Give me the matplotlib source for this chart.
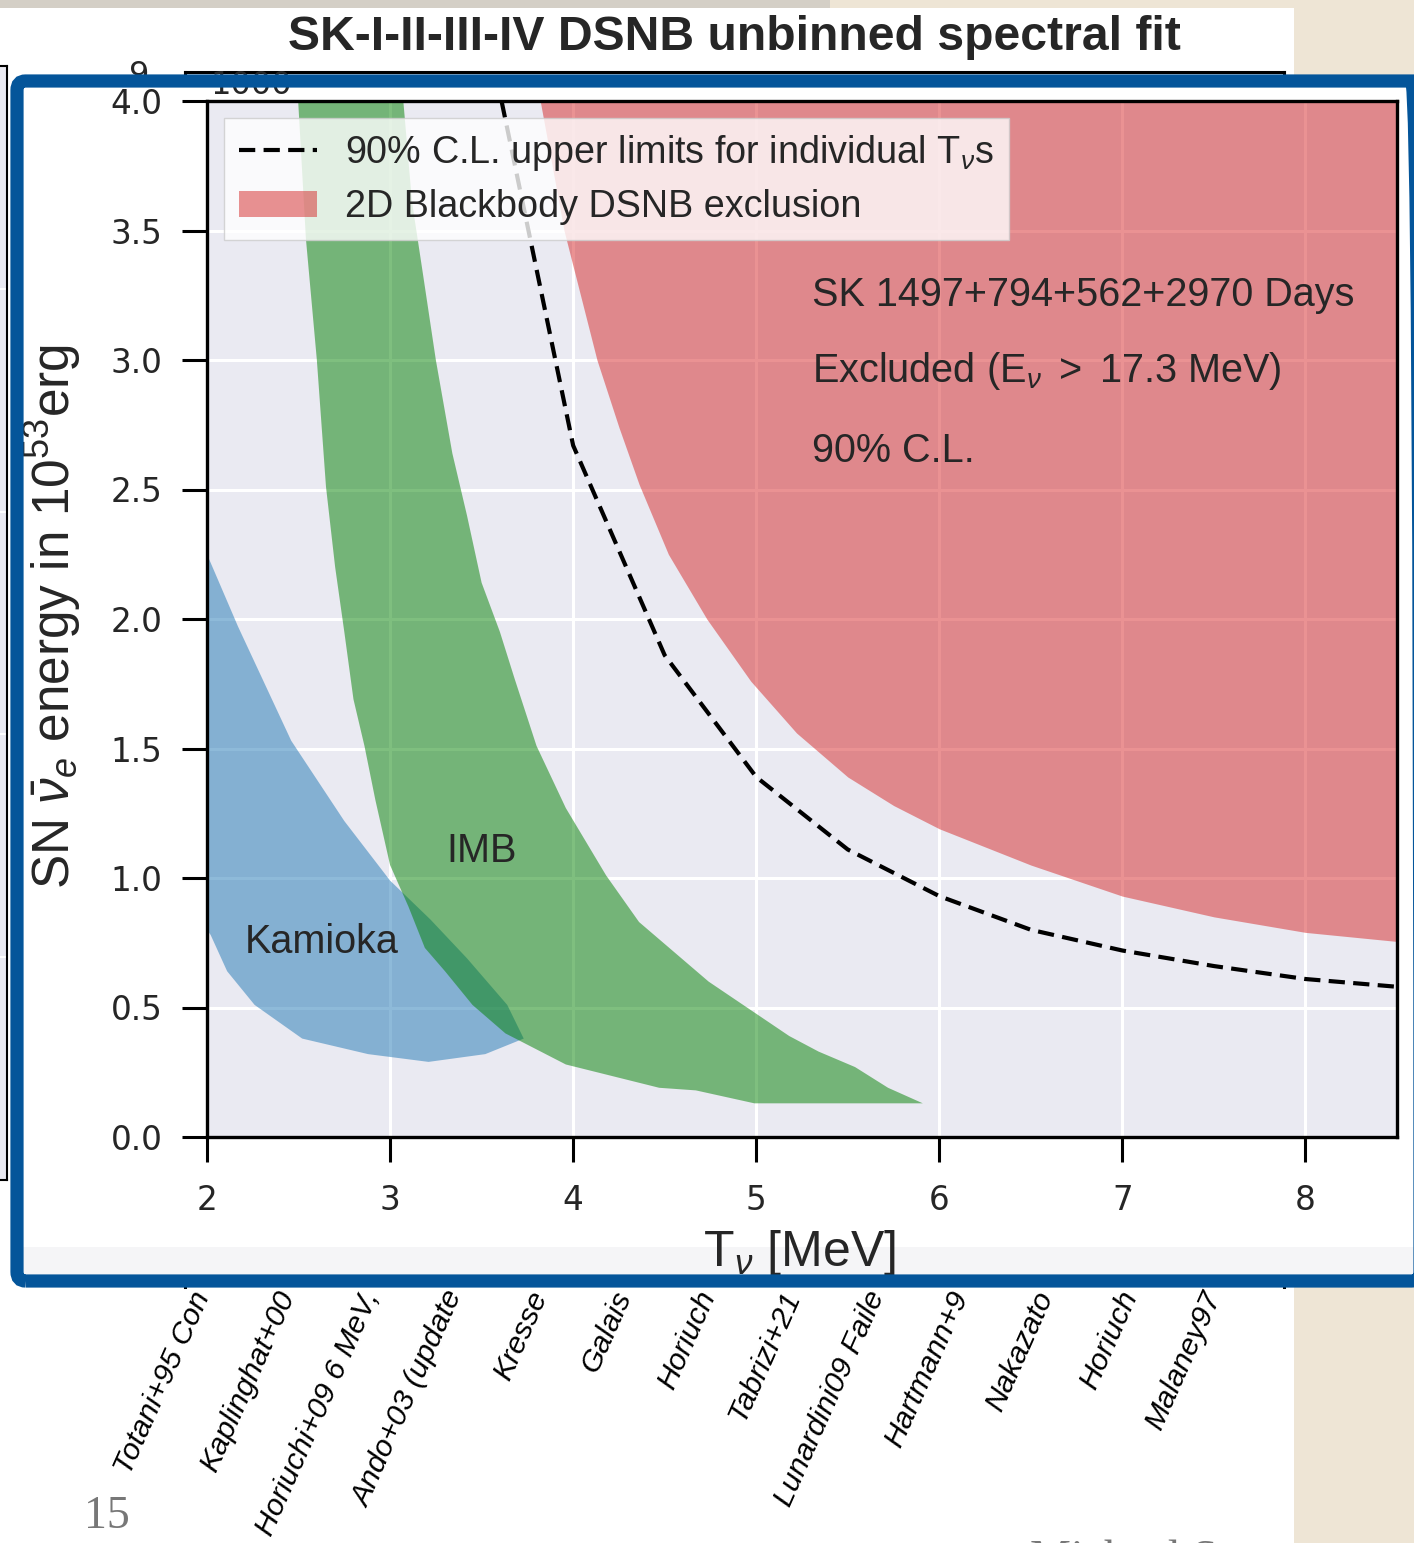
import matplotlib
matplotlib.use("Agg")
import matplotlib.pyplot as plt
from matplotlib.patches import Rectangle, FancyBboxPatch

W, H = 1414, 1543

# Kamioka allowed region (outline)
kam_T = [2.0, 2.17, 2.46, 2.75, 3.0, 3.22, 3.42, 3.64, 3.73, 3.52, 3.21, 2.88, 2.52, 2.26, 2.11, 2.02, 2.0]
kam_E = [2.25, 1.97, 1.53, 1.22, 0.99, 0.84, 0.69, 0.51, 0.38, 0.32, 0.29, 0.32, 0.38, 0.51, 0.64, 0.78, 0.80]

# IMB allowed band: lower-left edge and upper-right edge
imb_lo_T = [2.49, 2.54, 2.60, 2.65, 2.70, 2.75, 2.80, 2.86, 2.92, 3.00, 3.10, 3.19, 3.30, 3.45, 3.63, 3.96, 4.47, 4.67, 4.99, 5.91]
imb_lo_E = [4.10, 3.47, 3.00, 2.51, 2.20, 1.95, 1.69, 1.51, 1.30, 1.05, 0.89, 0.73, 0.64, 0.51, 0.40, 0.28, 0.19, 0.18, 0.13, 0.13]
imb_hi_T = [3.06, 3.12, 3.18, 3.25, 3.34, 3.42, 3.50, 3.60, 3.68, 3.80, 3.96, 4.18, 4.36, 4.74, 5.18, 5.34, 5.54, 5.72, 5.91]
imb_hi_E = [4.10, 3.61, 3.33, 3.00, 2.64, 2.40, 2.14, 1.95, 1.77, 1.51, 1.27, 1.01, 0.83, 0.60, 0.39, 0.33, 0.27, 0.19, 0.13]

# 90% C.L. upper limits for individual temperatures
lim_T = [3.5, 4.0, 4.5, 5.0, 5.5, 6.0, 6.5, 7.0, 7.5, 8.0, 8.5]
lim_E = [4.37, 2.67, 1.86, 1.39, 1.11, 0.93, 0.80, 0.72, 0.66, 0.61, 0.58]

# 2D blackbody DSNB exclusion boundary
excl_T = [3.82, 3.95, 4.13, 4.25, 4.36, 4.52, 4.73, 4.97, 5.22, 5.5, 5.75, 6.0, 6.5, 7.0, 7.5, 8.0, 8.5]
excl_E = [4.0, 3.5, 3.0, 2.74, 2.52, 2.25, 2.0, 1.76, 1.56, 1.39, 1.28, 1.19, 1.05, 0.93, 0.85, 0.79, 0.755]

x_ticks = [2, 3, 4, 5, 6, 7, 8]
y_ticks = [0.0, 0.5, 1.0, 1.5, 2.0, 2.5, 3.0, 3.5, 4.0]

# model names on the slide's plot underneath
model_labels = ["Totani+95 Con", "Kaplinghat+00", "Horiuchi+09 6 MeV,", "Ando+03 (update",
                "Kresse", "Galais", "Horiuch", "Tabrizi+21", "Lunardini09 Faile",
                "Hartmann+9", "Nakazato", "Horiuch", "Malaney97"]

plt.rcParams['font.family'] = ['Liberation Sans', 'DejaVu Sans']
plt.rcParams['mathtext.fontset'] = 'custom'
plt.rcParams['mathtext.rm'] = 'Liberation Sans'
plt.rcParams['mathtext.it'] = 'Liberation Sans:italic'
plt.rcParams['mathtext.bf'] = 'Liberation Sans:bold'
plt.rcParams['mathtext.sf'] = 'Liberation Sans'

TXT = '#262626'
BEIGE = '#eee5d5'
LAV = '#EAEAF2'


def fx(px):
    return px / W


def fy(py):
    return 1 - py / H


def rect_px(x0, y0, x1, y1):
    return [fx(x0), fy(y1), (x1 - x0) / W, (y1 - y0) / H]


fig = plt.figure(figsize=(W / 100, H / 100), dpi=100)
fig.patch.set_facecolor(BEIGE)

# slide page
fig.patches.append(Rectangle((fx(0), fy(H)), fx(1294), (H - 8) / H, transform=fig.transFigure,
                             facecolor='white', edgecolor='none', zorder=-3))
fig.patches.append(Rectangle((0, fy(8)), fx(830), 8 / H, transform=fig.transFigure,
                             facecolor='#d4cfc6', edgecolor='none', zorder=-3))

# slide footer
fig.text(fx(84), fy(1528), '15', family='Liberation Serif', fontsize=33, color='#777777',
         ha='left', va='baseline', zorder=-2)
fig.text(fx(1030), fy(1572), 'Michael Smy, UC Irvine', family='Liberation Serif', fontsize=33,
         color='#777777', ha='left', va='baseline', zorder=-2)
fig.patches.append(Rectangle((fx(1294), 0), 1 - fx(1294), 1, transform=fig.transFigure,
                             facecolor=BEIGE, edgecolor='none', zorder=-1))

# neighbouring panel at the left edge
ax_left = fig.add_axes(rect_px(-150, 66, 7, 1180), zorder=0.5)
ax_left.set_facecolor(LAV)
ax_left.set_xlim(0, 1)
ax_left.set_ylim(0, 5)
ax_left.set_yticks([1, 2, 3, 4])
ax_left.set_xticks([])
ax_left.tick_params(left=False, labelleft=False)
ax_left.grid(axis='y', color='white', lw=1.5)
for s in ax_left.spines.values():
    s.set_color('black')
    s.set_linewidth(1.5)

# slide plot underneath, mostly covered
ax_bg = fig.add_axes(rect_px(185, 72, 1284, 1287), zorder=0.5)
ax_bg.set_facecolor('none')
ax_bg.set_xlim(-0.2137, 12.83)
ax_bg.set_ylim(0, 9)
ax_bg.set_xticks(range(len(model_labels)))
ax_bg.set_xticklabels(model_labels, rotation=66, ha='right', va='center', rotation_mode='anchor',
                      fontsize=21.8, style='italic', color='black')
ax_bg.set_yticks([9])
ax_bg.set_yticklabels(['9'], family='DejaVu Sans', fontsize=23, color=TXT)
ax_bg.tick_params(axis='x', length=0, pad=4)
ax_bg.tick_params(axis='y', length=0, pad=26)
ax_bg.spines['bottom'].set_visible(False)
for s in ax_bg.spines.values():
    s.set_color('black')
    s.set_linewidth(2.2)
ax_bg.set_title('SK-I-II-III-IV DSNB unbinned spectral fit', fontsize=34.7, fontweight='bold',
                color=TXT, pad=16)

# framed inset
fig.patches.append(FancyBboxPatch((fx(17), fy(1281)), (1420 - 17) / W, (1281 - 81) / H,
                                  boxstyle='round,pad=0,rounding_size=0.006',
                                  transform=fig.transFigure, facecolor='white',
                                  edgecolor='none', zorder=1))
fig.patches.append(Rectangle((fx(20), fy(1276)), (1414 - 20) / W, 29 / H, transform=fig.transFigure,
                             facecolor='#f5f5f7', edgecolor='none', zorder=1.2))
fig.text(fx(210), fy(94), '1000', family='DejaVu Sans', fontsize=23, color=TXT,
         ha='left', va='baseline', zorder=1.5)

ax = fig.add_axes(rect_px(207, 101, 1397, 1137), zorder=2)
ax.set_facecolor(LAV)
ax.set_axisbelow(True)
ax.grid(color='white', lw=2.2)

ax.fill(kam_T, kam_E, color='tab:blue', alpha=0.5, lw=0, zorder=1)
ax.fill(imb_lo_T + imb_hi_T[::-1], imb_lo_E + imb_hi_E[::-1], color='green', alpha=0.5, lw=0, zorder=1.1)
excl = ax.fill_between(excl_T, excl_E, 4.6, color='tab:red', alpha=0.5, lw=0, zorder=1.2,
                       label='2D Blackbody DSNB exclusion')
lim_line, = ax.plot(lim_T, lim_E, color='black', lw=3.0, linestyle=(0, (3.9, 2.0)), zorder=3,
                    label=r'90% C.L. upper limits for individual T$_{\nu}$s')

ax.set_xlim(2, 8.5)
ax.set_ylim(0, 4)
ax.set_xticks(x_ticks)
ax.set_yticks(y_ticks)
ax.set_xticklabels([str(v) for v in x_ticks], family='DejaVu Sans')
ax.set_yticklabels([f'{v:.1f}' for v in y_ticks], family='DejaVu Sans')
ax.tick_params(direction='out', length=18, width=2.2, color='black', labelsize=23.5,
               labelcolor=TXT)
ax.tick_params(axis='y', pad=14)
ax.tick_params(axis='x', pad=16)
for s in ax.spines.values():
    s.set_color('black')
    s.set_linewidth(2.4)

ax.set_xlabel(r'T$_{\nu}$ [MeV]', fontsize=36, color=TXT)
ax.xaxis.set_label_coords(0.498, -0.088)
ax.set_ylabel(r'SN $\bar{\nu}_e$ energy in $10^{53}$erg', fontsize=37, color=TXT)
ax.yaxis.set_label_coords(-0.104, 0.502)

ax.text(2.207, 0.753, 'Kamioka', fontsize=28.5, color=TXT, va='center', ha='left')
ax.text(3.31, 1.104, 'IMB', fontsize=28.5, color=TXT, va='center', ha='left')
ax.text(5.306, 3.251, 'SK 1497+794+562+2970 Days', fontsize=28.5, color=TXT, va='center')
ax.text(5.306, 2.958, r'Excluded (E$_{\nu}$ $>$ 17.3 MeV)', fontsize=28.5, color=TXT, va='center')
ax.text(5.306, 2.649, '90% C.L.', fontsize=28.5, color=TXT, va='center')

leg = ax.legend(handles=[lim_line, excl], loc='upper left', fontsize=27.2, fancybox=False,
                framealpha=0.8, edgecolor='0.8', borderaxespad=0.45, handlelength=2.05,
                handletextpad=0.75, labelspacing=0.42)
for t in leg.get_texts():
    t.set_color(TXT)

# blue frame drawn over the inset edges
fig.patches.append(FancyBboxPatch((fx(17), fy(1281)), (1420 - 17) / W, (1281 - 81) / H,
                                  boxstyle='round,pad=0,rounding_size=0.006',
                                  transform=fig.transFigure, facecolor='none',
                                  edgecolor='#04559a', lw=9.5, zorder=5))

fig.savefig('out.png', dpi=100, facecolor=fig.get_facecolor())
